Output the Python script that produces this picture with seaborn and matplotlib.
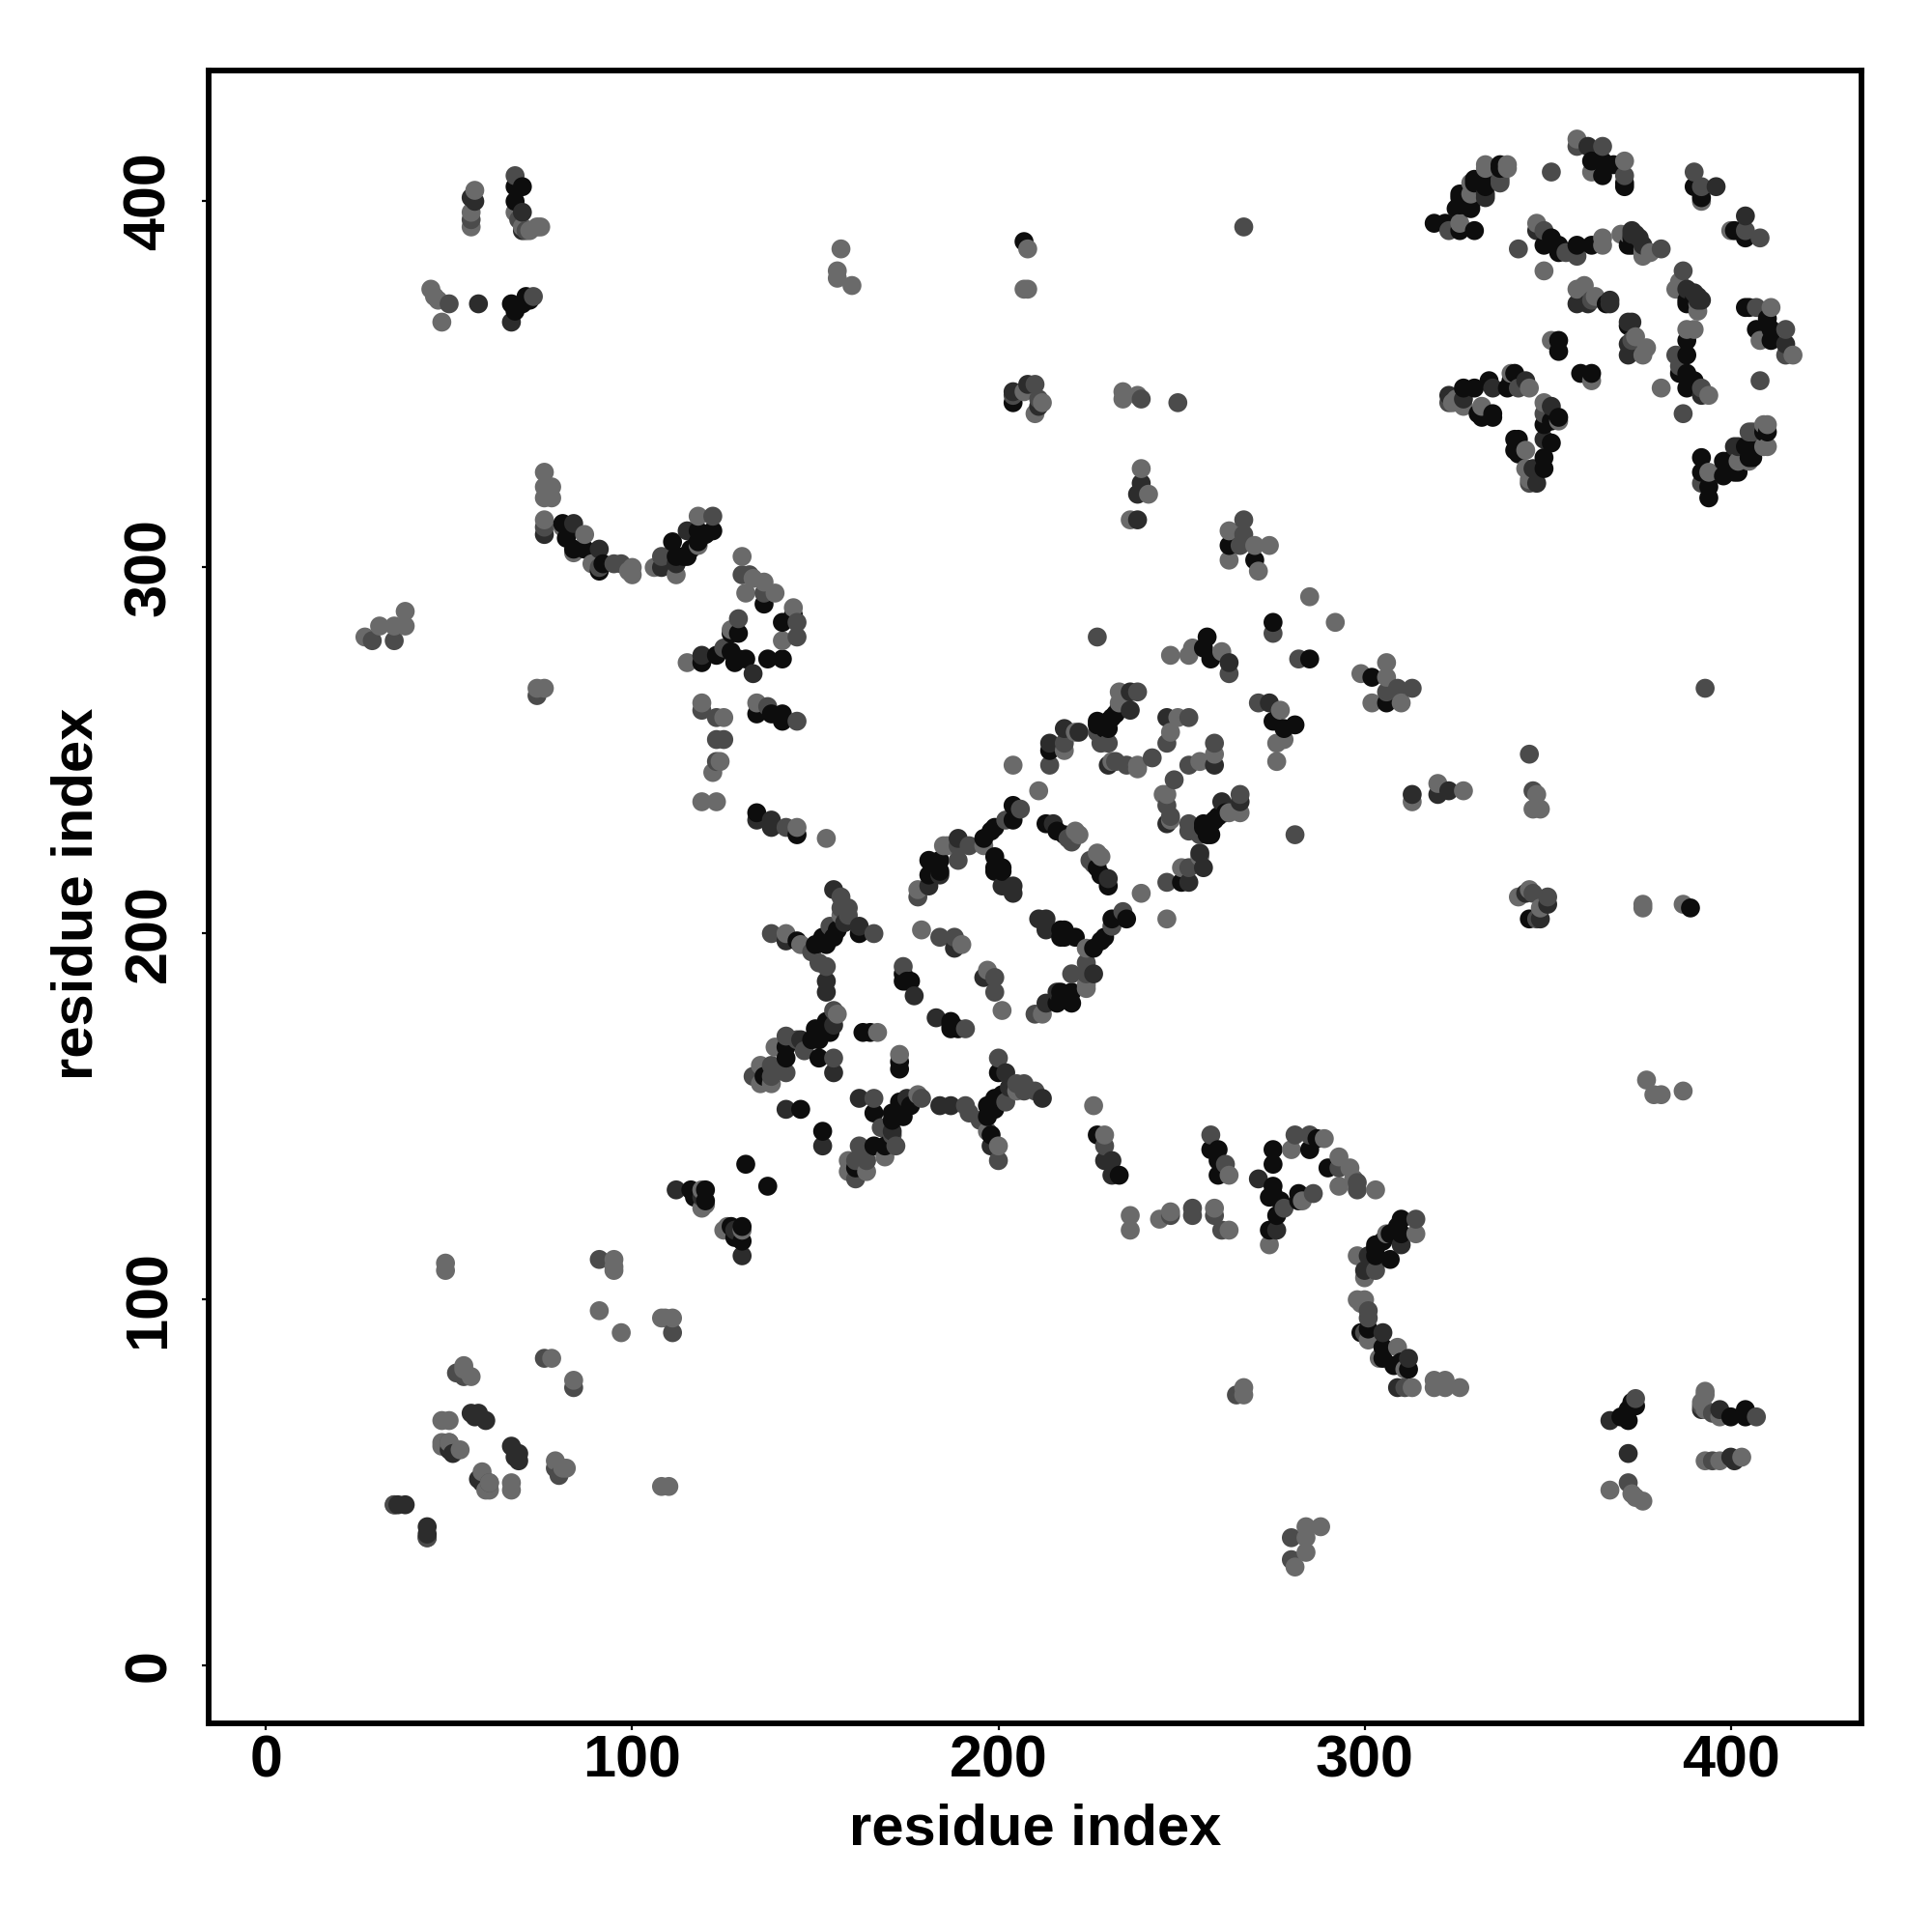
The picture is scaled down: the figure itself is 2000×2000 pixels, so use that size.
import matplotlib
matplotlib.use("Agg")
import matplotlib.pyplot as plt
import pandas as pd
import seaborn as sns

# Contacts (i, j), i < j, read from the upper triangle; the map is symmetric.
black = [
 (68,404),(70,404),(68,400),(67,372),(68,370),(70,372),(72,373),(71,374),
 (81,312),(83,310),(82,308),(84,305),(87,305),(92,301),(91,299),
 (112,303),(114,303),(115,303),(111,307),(118,307),(118,310),(122,310),(120,309),(116,305),
 (144,287),(141,285),(127,282),(129,282),(119,274),(123,276),(127,277),(129,275),(131,275),(128,274),(137,275),(141,275),
 (134,233),(134,260),(138,260),(141,260),(141,258),(145,227),
 (162,200),(152,199),(153,197),(150,197),(145,198),(155,199),(156,201),
 (153,176),(154,173),(152,173),(150,174),(151,171),(149,171),(142,169),(142,166),(136,161),(151,166),(146,152),(131,137),
 (163,173),(165,173),(174,187),(176,187),(175,187),(174,189),
 (181,220),(184,220),(181,216),(204,235),(204,231),(199,229),(198,228),(196,226),(199,221),(201,218),(199,217),
 (213,230),(216,228),(218,227),(233,262),(231,259),(228,257),(227,257),(230,256),(214,250),
 (257,281),(256,278),(258,275),(275,285),(207,389),(230,258),(229,256),(227,258),(232,260),
 (263,306),(270,302),(204,345),
 (116,130),(120,130),(120,127),(117,128),
 (319,394),(326,392),(330,392),(325,398),(329,398),(326,401),(329,400),(330,405),(333,405),(337,409),
 (362,411),(365,411),(365,407),(368,410),(371,404),(371,405),(390,404),(392,401),
 (351,390),(349,388),(353,388),(353,386),(358,388),(362,388),(372,388),(366,372),(373,388),(373,390),
 (353,362),(353,359),(341,353),(340,351),(334,351),(330,349),(327,349),(331,342),(335,342),(339,349),(335,341),(332,341),
 (322,394),(326,399),(329,399),(326,402),(330,406),(337,410),(333,404),
 (136,290),(182,217),(184,217),(199,218),(201,217),
]
dark = [
 (56,401),(57,400),(70,397),(58,372),(67,367),(70,392),
 (84,312),(91,305),(76,309),
 (108,300),(115,310),(112,301),
 (119,276),(133,271),(138,231),(138,229),(134,231),
 (155,212),(162,202),(142,198),(153,187),(153,184),(158,203),
 (155,175),(146,171),(155,162),(142,152),(188,196),(177,183),
 (189,226),(181,213),(184,216),(201,213),(204,213),(204,211),(215,230),
 (236,266),(236,261),(230,246),(222,255),(218,256),(214,252),(246,259),(263,274),
 (239,323),(238,320),(238,313),(208,350),(204,348),(211,344),
 (38,44),(44,36),(56,69),(58,69),(57,68),(60,67),(51,58),(50,59),(112,130),(119,128),
 (333,401),(347,392),(344,351),(335,349),(327,346),(361,415),(361,372),(367,372),(367,373),(375,390),(373,391),(376,388),(374,391),
 (323,347),(373,392),(396,404),(358,372),(333,402),
]
mid = [
 (56,395),(68,407),(50,372),(69,395),(71,392),(73,374),
 (76,311),(95,301),(97,301),(91,300),
 (108,303),(122,314),
 (130,298),(132,298),(136,293),(145,285),(145,281),(129,286),(125,278),
 (119,261),(123,259),(123,253),(125,253),(123,247),(137,262),(145,258),(74,265),(142,229),
 (157,210),(159,207),(157,207),(159,205),(154,202),(138,200),(151,192),(153,191),(149,195),(166,200),
 (155,179),(147,168),(145,171),(142,172),(142,162),(138,164),(138,161),(133,161),(155,166),
 (174,191),(184,199),(188,199),(178,210),(206,234),(202,231),(192,224),(189,224),(189,220),
 (219,226),(220,225),(238,266),(227,255),(230,252),(228,252),(232,247),(235,246),(242,248),(218,252),(214,246),
 (252,259),(246,252),(227,281),(263,271),(275,282),(267,393),
 (267,313),(267,309),(266,306),
 (204,347),(210,350),(211,346),(239,346),(249,345),
 (35,280),(29,280),(91,111),(76,84),(35,44),(44,35),(52,80),(50,61),(54,79),
 (337,405),(342,387),(351,408),(349,392),(355,386),(358,385),(358,415),(365,415),(371,407),(390,408),(392,404),(362,373),
 (381,387),(323,345),(342,349),(323,392),(337,406),
]
light = [
 (57,403),(56,397),(56,393),(68,397),(70,393),(72,392),(74,393),(75,393),(45,376),(46,374),(47,373),(48,367),
 (76,326),(76,322),(78,322),(76,319),(78,319),(76,313),(87,309),(89,301),(100,300),(100,298),(99,299),(81,311),(84,304),
 (106,300),(112,298),(118,306),(118,314),
 (130,303),(133,297),(131,293),(136,296),(139,293),(144,289),(141,280),(115,274),(127,283),
 (119,263),(125,259),(124,247),(122,244),(119,236),(123,236),(134,263),(74,267),(76,267),(145,229),(153,226),
 (157,205),(146,197),(142,200),
 (156,178),(139,169),(135,164),(135,159),(138,159),(167,173),
 (179,201),(190,197),(178,212),(196,224),(186,224),(185,224),(204,246),(211,239),(221,228),(222,227),
 (233,266),(233,263),(231,247),(238,246),(238,245),(221,255),(218,250),(249,259),(247,255),
 (247,276),(252,276),(253,278),(261,277),(263,310),(263,302),(270,306),(274,306),(271,299),(285,292),
 (157,387),(156,381),(156,379),(160,377),(208,387),(207,376),(208,376),
 (207,348),(210,342),(212,345),(234,348),(234,346),(238,347),(239,327),(241,320),(236,313),
 (27,281),(31,284),(35,284),(38,288),(38,284),
 (49,110),(49,108),(95,111),(95,109),(95,108),(91,97),(78,84),(54,81),(56,79),(54,82),(53,59),
 (48,67),(50,67),(48,60),(48,61),(50,61),(119,125),(119,130),(120,126),
 (333,409),(339,409),(329,405),(347,394),(349,381),(358,376),(358,417),(362,408),(371,411),(392,400),
 (365,390),(365,388),(370,391),(376,387),(376,385),(378,386),(376,386),(372,391),(360,377),(363,374),(351,362),
 (345,349),(340,353),(332,344),(327,344),(325,346),(324,345),(326,394),(329,402),(339,410),(333,410),
]
tick_values = [0, 100, 200, 300, 400]
axis_title = "residue index"
shade_colors = {"black": "#0d0d0d", "dark": "#2c2c2c", "mid": "#4b4b4b", "light": "#6a6a6a"}

rows = []
for name, pairs in [("black", black), ("dark", dark), ("mid", mid), ("light", light)]:
    for i, j in pairs:
        rows.append((i, j, name))
        rows.append((j, i, name))
df = pd.DataFrame(rows, columns=["i", "j", "shade"]).sort_values(["i", "j"], kind="stable")

sns.set_theme(style="white")
plt.rcParams["font.family"] = ["Liberation Sans", "DejaVu Sans"]
plt.rcParams["font.weight"] = "bold"

fig = plt.figure(figsize=(10, 10), dpi=200)
L, R, T, B = 216.3, 1927.0, 72.7, 1784.0
ax = fig.add_axes([L/2000, (2000-B)/2000, (R-L)/2000, (B-T)/2000])
sns.scatterplot(data=df, x="i", y="j", hue="shade", palette=shade_colors,
                hue_order=list(shade_colors), s=50, linewidth=0, alpha=1,
                legend=False, ax=ax)
ax.set_xlim(-15.6, 435.7)
ax.set_ylim(-15.7, 435.8)
ax.set_xticks(tick_values)
ax.set_yticks(tick_values)
ax.set_xticklabels([str(t) for t in tick_values], fontsize=22, fontweight="bold", color="black")
ax.set_yticklabels([str(t) for t in tick_values], fontsize=22, fontweight="bold", color="black",
                   rotation=90, va="center")
ax.tick_params(axis="x", length=2.6, width=0.8, color="black", pad=1.6, bottom=True)
ax.tick_params(axis="y", length=2.6, width=0.8, color="black", pad=9, left=True)
for s in ax.spines.values():
    s.set_linewidth(2.1)
    s.set_color("black")
ax.set_xlabel(axis_title, fontsize=21.5, fontweight="bold", color="black")
ax.set_ylabel(axis_title, fontsize=21.5, fontweight="bold", color="black", va="center")
ax.xaxis.set_label_coords(0.5, (B-1894.5)/(B-T), transform=ax.transAxes)
ax.yaxis.set_label_coords((80-L)/(R-L), 0.502, transform=ax.transAxes)
ax.xaxis.label.set_va("center")
fig.savefig("out.png", dpi=200, facecolor="white")
